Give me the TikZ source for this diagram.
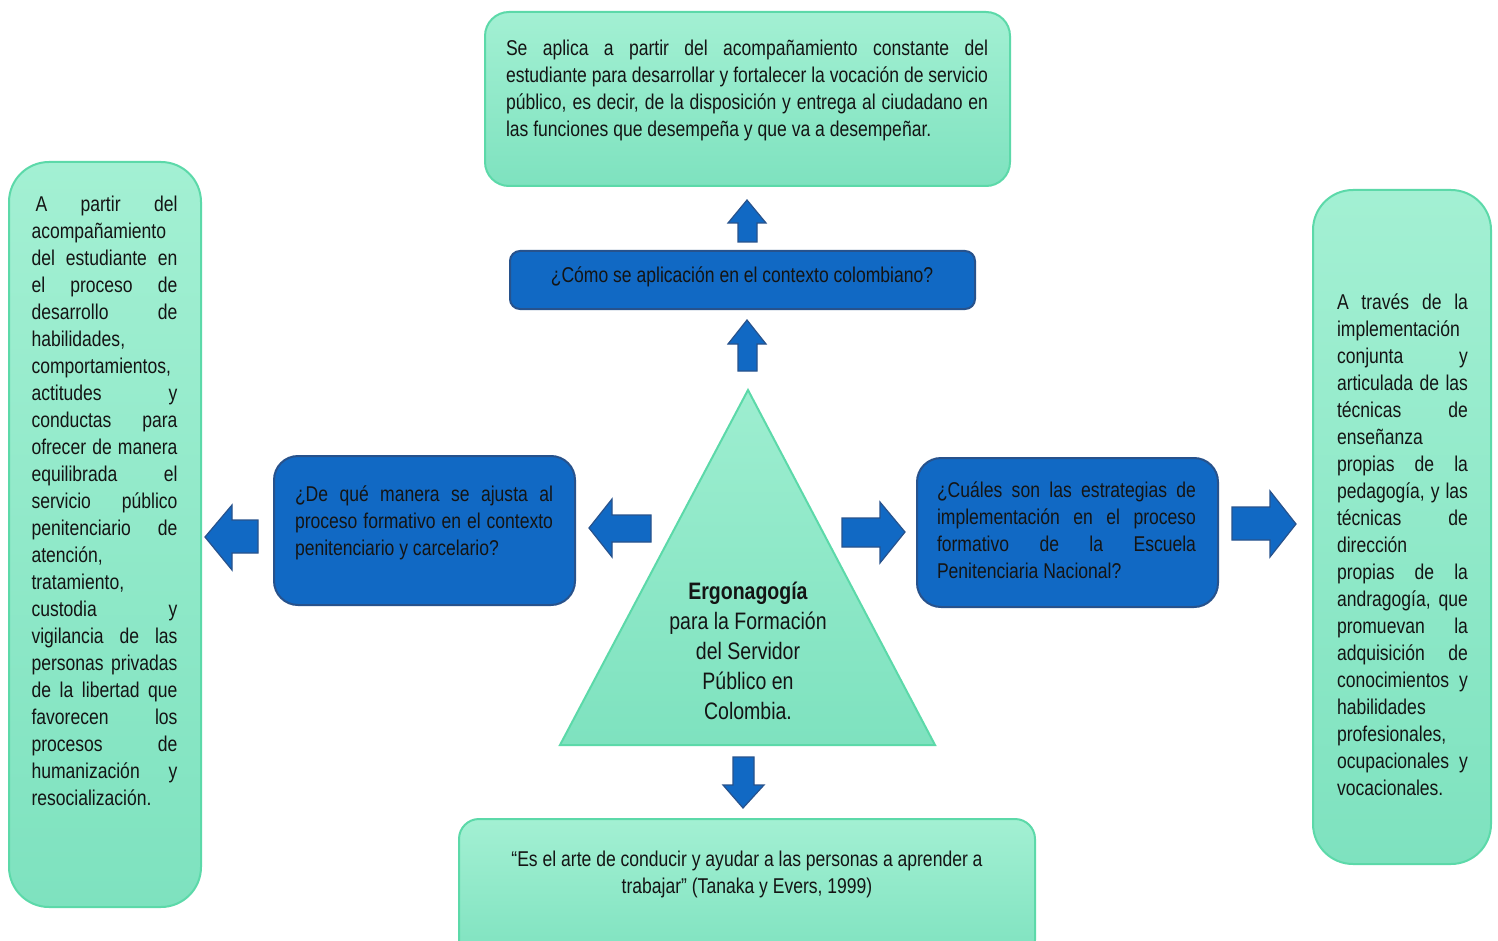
\documentclass[tikz,border=0pt]{standalone}
\usepackage{fontspec}
\setmainfont{Liberation Sans}[FakeStretch=0.82]
\definecolor{menta}{HTML}{A3F0D3}
\definecolor{mentaosc}{HTML}{7EE2BF}
\definecolor{verdeborde}{HTML}{5CD9A9}
\definecolor{azul}{HTML}{1169C4}
\definecolor{azulborde}{HTML}{27528C}
\definecolor{tinta}{HTML}{141414}
\begin{document}
\begin{tikzpicture}[x=0.5pt, y=-0.5pt,
    cajaverde/.style={draw=verdeborde, line width=1pt, top color=menta, bottom color=mentaosc, inner sep=0pt},
    cajaazul/.style={draw=azulborde, line width=1pt, fill=azul, inner sep=0pt},
    flecha/.style={draw=azulborde, line width=0.6pt, fill=azul, line join=miter},
    txt/.style={align=justify, inner sep=0pt, text=tinta, font=\fontsize{10.7}{13.5}\selectfont},
    txtc/.style={align=center, inner sep=0pt, text=tinta, font=\fontsize{10.7}{13.5}\selectfont}]
    \useasboundingbox (0,0) rectangle (1498,941);
    \clip (0,0) rectangle (1498,941);
    \fill[white] (0,0) rectangle (1498,941);
    % cajas
    \node[cajaverde, rounded corners=12pt, minimum width=262.5pt, minimum height=87pt] (arriba) at (747.5,99) {};
    \node[cajaazul, rounded corners=5pt, minimum width=232.5pt, minimum height=29pt] (como) at (742.5,280) {};
    \node[cajaazul, rounded corners=12pt, minimum width=150.5pt, minimum height=74.5pt] (ajusta) at (424.5,530.5) {};
    \node[cajaazul, rounded corners=12pt, minimum width=150.5pt, minimum height=74.5pt] (estrategias) at (1067.5,532.5) {};
    \node[cajaverde, rounded corners=20pt, minimum width=96pt, minimum height=372.5pt] (izq) at (105,534.5) {};
    \node[cajaverde, rounded corners=20pt, minimum width=89pt, minimum height=337pt] (der) at (1402,527) {};
    \node[cajaverde, rounded corners=10pt, minimum width=288pt, minimum height=70.5pt] (abajo) at (747,889.5) {};
    % triangulo
    \shade[top color=menta!85!mentaosc, bottom color=mentaosc, draw=verdeborde, line width=1pt]
        (748,390) -- (935,745) -- (560,745) -- cycle;
    \node[align=center, inner sep=0pt, text=tinta, font=\fontsize{11.9}{15}\selectfont] (ergo) at (748,651)
        {\textbf{Ergonagogía}\\para la Formación\\del Servidor\\Público en\\Colombia.};
    % textos
    \node[txtc] (como-t) at (742,277) {¿Cómo se aplicación en el contexto colombiano?};
    \node[txt, text width=241pt] (arriba-t) at (747,90.5) {Se aplica a partir del acompañamiento constante del\linebreak
        estudiante para desarrollar y fortalecer la vocación de servicio\linebreak
        público, es decir, de la disposición y entrega al ciudadano en\linebreak
        las funciones que desempeña y que va a desempeñar.};
    \node[txt, text width=129pt] (ajusta-t) at (424,523) {¿De qué manera se ajusta al\linebreak
        proceso formativo en el contexto\linebreak penitenciario y carcelario?};
    \node[txt, text width=129.5pt] (estrategias-t) at (1066.5,530) {¿Cuáles son las estrategias de\linebreak
        implementación en el proceso\linebreak formativo de la Escuela\linebreak Penitenciaria Nacional?};
    \node[txt, text width=73pt] (izq-t) at (104.5,500.5) {\hspace*{2pt}A partir del\linebreak acompañamiento\linebreak
        del estudiante en\linebreak el proceso de\linebreak desarrollo de\linebreak habilidades,\linebreak
        comportamientos,\linebreak actitudes y\linebreak conductas para\linebreak ofrecer de manera\linebreak
        equilibrada el\linebreak servicio público\linebreak penitenciario de\linebreak atención,\linebreak
        tratamiento,\linebreak custodia y\linebreak vigilancia de las\linebreak personas privadas\linebreak
        de la libertad que\linebreak favorecen los\linebreak procesos de\linebreak humanización y\linebreak
        resocialización.};
    \node[txt, text width=65.5pt] (der-t) at (1402.5,544.5) {A través de la\linebreak implementación\linebreak
        conjunta y\linebreak articulada de las\linebreak técnicas de\linebreak enseñanza\linebreak
        propias de la\linebreak pedagogía, y las\linebreak técnicas de\linebreak dirección\linebreak
        propias de la\linebreak andragogía, que\linebreak promuevan la\linebreak adquisición de\linebreak
        conocimientos y\linebreak habilidades\linebreak profesionales,\linebreak ocupacionales y\linebreak
        vocacionales.};
    \node[txtc] (abajo-t) at (747,874) {“Es el arte de conducir y ayudar a las personas a aprender a\\
        trabajar” (Tanaka y Evers, 1999)};
    % flechas
    \filldraw[flecha] (747,200) -- (766,223) -- (757,223) -- (757,242) -- (738,242) -- (738,223) -- (728,223) -- cycle;
    \filldraw[flecha] (747,320) -- (766,344) -- (757,344) -- (757,371) -- (738,371) -- (738,344) -- (728,344) -- cycle;
    \filldraw[flecha] (743,808) -- (764,785) -- (754,785) -- (754,757) -- (733,757) -- (733,785) -- (723,785) -- cycle;
    \filldraw[flecha] (589,528) -- (612,499) -- (612,515) -- (651,515) -- (651,542) -- (612,542) -- (612,557) -- cycle;
    \filldraw[flecha] (205,537) -- (232,505) -- (232,520) -- (258,520) -- (258,553) -- (232,553) -- (232,570) -- cycle;
    \filldraw[flecha] (905,532) -- (880,502) -- (880,518) -- (842,518) -- (842,547) -- (880,547) -- (880,563) -- cycle;
    \filldraw[flecha] (1296,524) -- (1270,491) -- (1270,507) -- (1232,507) -- (1232,540) -- (1270,540) -- (1270,557) -- cycle;
\end{tikzpicture}
\end{document}
